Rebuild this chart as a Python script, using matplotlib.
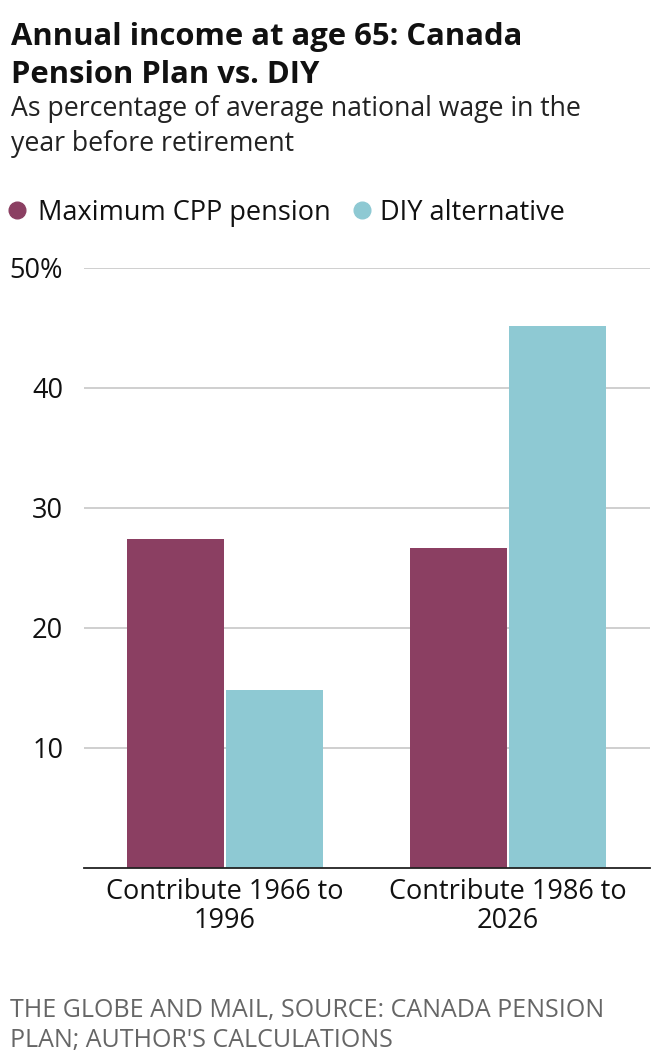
import numpy as np
import matplotlib
matplotlib.use("Agg")
import matplotlib.pyplot as plt
from matplotlib.lines import Line2D

plt.rcParams['font.family'] = ['Open Sans', 'DejaVu Sans']

# data
groups = ["Contribute 1966 to\n1996", "Contribute 1986 to\n2026"]
cpp_values = [27.4, 26.7]
diy_values = [14.8, 45.2]
series_names = ["Maximum CPP pension", "DIY alternative"]
yticks = [10, 20, 30, 40, 50]
ytick_labels = ["10", "20", "30", "40", "50%"]

cpp_color = "#8B3F62"
diy_color = "#8EC9D3"

W, H = 660, 1062
fig = plt.figure(figsize=(W / 100, H / 100), dpi=100)

def px(x, y):
    # pixel coords (from top-left) -> figure fraction
    return x / W, 1 - y / H

# axes from x=84..650, y=268..868
ax = fig.add_axes([84 / W, 1 - 868 / H, (650 - 84) / W, (868 - 268) / H])

x = np.arange(len(groups))
off = 0.175
bw = 0.343
ax.bar(x - off, cpp_values, bw, color=cpp_color, zorder=3)
ax.bar(x + off, diy_values, bw, color=diy_color, zorder=3)

ax.set_xlim(-0.498, 1.502)
ax.set_ylim(0, 50)
ax.set_yticks(yticks)
ax.set_yticklabels(ytick_labels)
ax.set_xticks(x)
ax.set_xticklabels(groups)
ax.tick_params(axis='y', length=0, pad=15, labelsize=19.5, labelcolor="#111111")
ax.tick_params(axis='x', length=0, pad=7, labelsize=19.5, labelcolor="#111111")
for lbl in ax.get_xticklabels():
    lbl.set_linespacing(1.05)
ax.grid(axis='y', color="#cccccc", linewidth=1.3, zorder=0)
for s in ["top", "right", "left"]:
    ax.spines[s].set_visible(False)
ax.spines["bottom"].set_color("#222222")
ax.spines["bottom"].set_linewidth(1.3)
ax.spines["bottom"].set_zorder(4)

# title block
title_lines = ["Annual income at age 65: Canada", "Pension Plan vs. DIY"]
for yb, t in zip([45, 83], title_lines):
    fig.text(*px(11, yb), t, fontsize=22.3, fontweight="bold", color="#111111",
             va="baseline")
sub_lines = ["As percentage of average national wage in the", "year before retirement"]
for yb, t in zip([116, 151], sub_lines):
    fig.text(*px(11, yb), t, fontsize=19.2, color="#222222", va="baseline")

# legend
for cx, tx, col, name in [(17, 38, cpp_color, series_names[0]),
                          (362, 380, diy_color, series_names[1])]:
    fig.add_artist(Line2D([cx / W], [1 - 210 / H], marker="o", markersize=12,
                          color=col, transform=fig.transFigure))
    fig.text(*px(tx, 220), name, fontsize=19.5, color="#111111", va="baseline")

# footer
foot_lines = ["THE GLOBE AND MAIL, SOURCE: CANADA PENSION", "PLAN; AUTHOR'S CALCULATIONS"]
for yb, t in zip([1017, 1047], foot_lines):
    fig.text(*px(10, yb), t, fontsize=18, color="#666666", va="baseline")

fig.savefig("out.png", dpi=100, facecolor="white")
